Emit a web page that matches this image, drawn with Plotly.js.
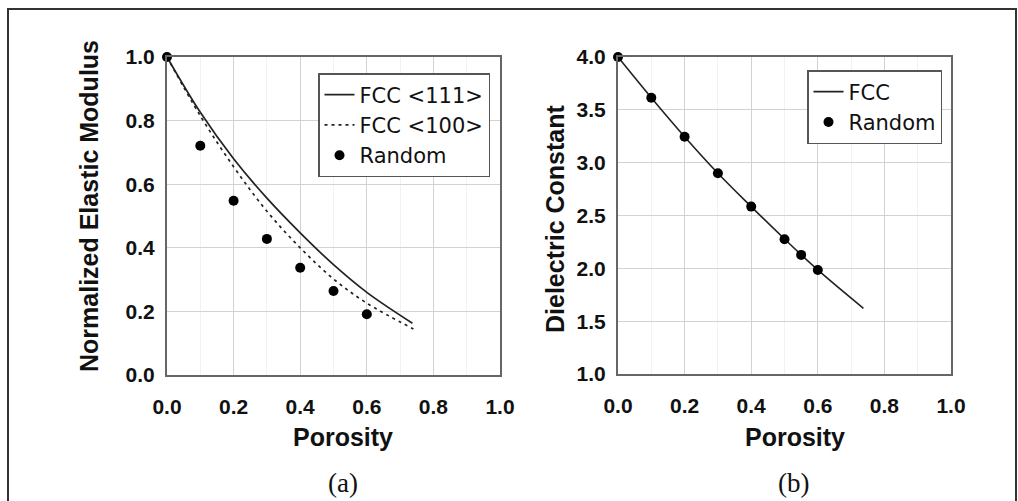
<!DOCTYPE html>
<html>
<head>
<meta charset="utf-8">
<script src="https://cdn.plot.ly/plotly-3.0.1.min.js"></script>
<style>html,body{margin:0;padding:0;background:#fff;}#chart{width:1018px;height:501px;}</style>
</head>
<body>
<div id="chart"></div>
<script>
// Panel (a): normalized elastic modulus vs porosity
const porosityA = [0, 0.1, 0.2, 0.3, 0.4, 0.5, 0.6, 0.737];
const fcc111 = [1.0, 0.826, 0.68, 0.556, 0.447, 0.347, 0.26, 0.163];
const porosityA100 = [0, 0.1, 0.2, 0.3, 0.4, 0.5, 0.6, 0.74];
const fcc100 = [1.0, 0.815, 0.655, 0.515, 0.40, 0.302, 0.226, 0.145];
const randomXA = [0, 0.1, 0.2, 0.3, 0.4, 0.5, 0.6];
const randomA = [1.0, 0.721, 0.548, 0.428, 0.337, 0.264, 0.191];

// Panel (b): dielectric constant vs porosity
const porosityB = [0, 0.1, 0.2, 0.3, 0.4, 0.5, 0.6, 0.737];
const fccB = [4.0, 3.615, 3.246, 2.90, 2.584, 2.278, 1.985, 1.622];
const randomXB = [0, 0.1, 0.2, 0.3, 0.4, 0.5, 0.55, 0.6];
const randomB = [4.0, 3.615, 3.246, 2.90, 2.584, 2.275, 2.127, 1.985];

const xTicks = [0, 0.2, 0.4, 0.6, 0.8, 1.0];
const xTickText = ['0.0', '0.2', '0.4', '0.6', '0.8', '1.0'];
const yTicksA = [0, 0.2, 0.4, 0.6, 0.8, 1.0];
const yTickTextA = ['0.0', '0.2', '0.4', '0.6', '0.8', '1.0'];
const yTicksB = [1.0, 1.5, 2.0, 2.5, 3.0, 3.5, 4.0];
const yTickTextB = ['1.0', '1.5', '2.0', '2.5', '3.0', '3.5', '4.0'];

const W = 1018, H = 501;
const px = v => v / W;
const py = v => 1 - v / H;

const lineCol = '#222';
const traces = [
  {x: porosityA, y: fcc111, type: 'scatter', mode: 'lines', name: 'FCC &lt;111&gt;',
   line: {color: lineCol, width: 1.7, shape: 'spline', smoothing: 1}, xaxis: 'x', yaxis: 'y', legend: 'legend'},
  {x: porosityA100, y: fcc100, type: 'scatter', mode: 'lines', name: 'FCC &lt;100&gt;',
   line: {color: lineCol, width: 1.7, dash: '3px,4px', shape: 'spline', smoothing: 1}, xaxis: 'x', yaxis: 'y', legend: 'legend'},
  {x: randomXA, y: randomA, type: 'scatter', mode: 'markers', name: 'Random',
   marker: {color: '#000', size: 10}, xaxis: 'x', yaxis: 'y', legend: 'legend', cliponaxis: false},
  {x: porosityB, y: fccB, type: 'scatter', mode: 'lines', name: 'FCC',
   line: {color: lineCol, width: 1.6, shape: 'spline', smoothing: 1}, xaxis: 'x2', yaxis: 'y2', legend: 'legend2'},
  {x: randomXB, y: randomB, type: 'scatter', mode: 'markers', name: 'Random',
   marker: {color: '#000', size: 10}, xaxis: 'x2', yaxis: 'y2', legend: 'legend2', cliponaxis: false}
];

const tickFont = {family: 'Liberation Sans, Arial, sans-serif', size: 21, color: '#111', weight: 700};
const titleFont = {family: 'Liberation Sans, Arial, sans-serif', size: 25, color: '#111', weight: 700};
const legFont = {family: 'DejaVu Sans, Liberation Sans, Arial, sans-serif', size: 21, color: '#111'};
const capFont = {family: 'Liberation Serif, Times New Roman, serif', size: 27, color: '#111'};

function xAxis(domain, anchor) {
  return {domain: domain, anchor: anchor, range: [0, 1], tickvals: xTicks, ticktext: xTickText,
    showgrid: true, gridcolor: '#d2d2d2', gridwidth: 1.2,
    minor: {dtick: 0.1, showgrid: true, gridcolor: '#f2f2f2', gridwidth: 1},
    showline: true, mirror: true, linecolor: '#666', linewidth: 2,
    ticks: '', zeroline: false, tickfont: tickFont, ticklabelstandoff: 12, fixedrange: true};
}
function yAxis(domain, anchor, range, vals, text) {
  return {domain: domain, anchor: anchor, range: range, tickvals: vals, ticktext: text,
    showgrid: true, gridcolor: '#d2d2d2', gridwidth: 1.2,
    showline: true, mirror: true, linecolor: '#666', linewidth: 2,
    ticks: '', zeroline: false, tickfont: tickFont, ticklabelstandoff: 6, fixedrange: true};
}

function ann(text, x, y, font, angle) {
  return {text: text, x: px(x), y: py(y), xref: 'paper', yref: 'paper', xanchor: 'center', yanchor: 'middle',
    textangle: angle || 0, showarrow: false, font: font};
}

const layout = {
  width: W, height: H,
  margin: {l: 0, r: 0, t: 0, b: 0},
  paper_bgcolor: '#fff', plot_bgcolor: '#fff',
  showlegend: true,
  xaxis: xAxis([px(167), px(500)], 'y'),
  yaxis: yAxis([py(375), py(57)], 'x', [0, 1], yTicksA, yTickTextA),
  xaxis2: xAxis([px(618), px(951)], 'y2'),
  yaxis2: yAxis([py(374), py(57)], 'x2', [1, 4], yTicksB, yTickTextB),
  legend: {x: px(318), y: py(73), xanchor: 'left', yanchor: 'top', xref: 'paper', yref: 'paper',
    bgcolor: '#fff', bordercolor: '#555', borderwidth: 1.5, font: legFont,
    itemwidth: 30, tracegroupgap: 0},
  legend2: {x: px(807), y: py(70), xanchor: 'left', yanchor: 'top', xref: 'paper', yref: 'paper',
    bgcolor: '#fff', bordercolor: '#555', borderwidth: 1.5, font: legFont,
    itemwidth: 30, tracegroupgap: 0},
  annotations: [
    ann('Normalized Elastic Modulus', 89, 206, titleFont, -90),
    ann('Porosity', 343, 437, titleFont),
    ann('Dielectric Constant', 555, 219, titleFont, -90),
    ann('Porosity', 795, 437, titleFont),
    ann('(a)', 343, 483, capFont),
    ann('(b)', 793, 483, capFont)
  ],
  shapes: [
    {type: 'rect', xref: 'paper', yref: 'paper', x0: px(8), x1: px(1016), y0: -0.05, y1: py(9),
     line: {color: '#333', width: 2}, fillcolor: 'rgba(0,0,0,0)', layer: 'below'}
  ]
};

Plotly.newPlot('chart', traces, layout, {displayModeBar: false, staticPlot: true});
</script>
</body>
</html>
